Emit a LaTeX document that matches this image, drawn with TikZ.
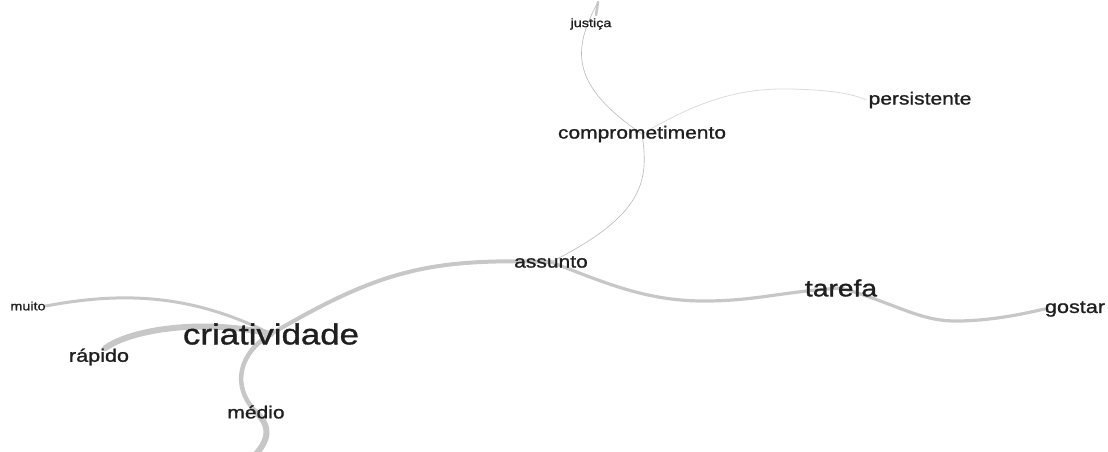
\documentclass[tikz,border=0pt]{standalone}
\usepackage{fontspec}
\setmainfont{Liberation Sans}[FakeStretch=1.2,FakeBold=1.2]
\usetikzlibrary{backgrounds}
\begin{document}
\begin{tikzpicture}[x=1pt,y=-1pt,
  lbl/.style={font=\fontsize{#1}{#1}\selectfont, text=black!88, inner sep=0pt},
  lnk/.style={draw=black!22, line cap=round, line width=#1},
  thinlnk/.style={draw=black!28, line width=0.6pt},
  faint/.style={draw=black!14, line width=0.8pt}]
\useasboundingbox (0,0) rectangle (1108,452);
% nodes
\node[lbl=12] (justica) at (591,24) {justiça};
\node[lbl=17.5] (persistente) at (920,100) {persistente};
\node[lbl=17.5] (compro) at (642,134) {comprometimento};
\node[lbl=17.5] (assunto) at (551,262) {assunto};
\node[lbl=23.5] (tarefa) at (841,288) {tarefa};
\node[lbl=18] (gostar) at (1075,309) {gostar};
\node[lbl=12] (muito) at (28,306) {muito};
\node[lbl=29] (criat) at (271,334) {criatividade};
\node[lbl=18] (rapido) at (99,357) {rápido};
\node[lbl=17.5] (medio) at (256,412) {médio};
\coordinate (jtop) at (598,2);
\coordinate (mbot) at (256,454);
% connectors (behind text)
\begin{pgfonlayer}{background}
\draw[thinlnk] (jtop) .. controls (572,50) and (570,85) .. (compro.center);
\draw[lnk=2.6pt] (jtop) -- ([xshift=5pt,yshift=3pt]justica.north);
\draw[faint] (compro.center) .. controls (700,100) and (740,88) .. (790,89) .. controls (830,90) and (850,93) .. ([xshift=-2pt]persistente.west);
\draw[thinlnk] (compro.center) .. controls (649,180) and (645,215) .. (assunto.center);
\draw[lnk=4pt] (assunto.center) .. controls (430,258) and (380,270) .. (criat.center);
\draw[lnk=3.2pt] (assunto.center) .. controls (610,285) and (650,302) .. (710,301) .. controls (760,300) and (780,292) .. (tarefa.center);
\draw[lnk=3.2pt] (tarefa.center) .. controls (900,305) and (920,322) .. (960,321) .. controls (1000,320) and (1030,312) .. (gostar.west);
\draw[lnk=3pt] (muito.east) .. controls (120,292) and (190,293) .. (criat.center);
\draw[lnk=6pt] ([xshift=6pt]rapido.north) .. controls (130,330) and (200,318) .. (criat.center);
\draw[lnk=4.5pt] (criat.center) .. controls (240,352) and (230,385) .. (medio.center);
\draw[lnk=6pt] (medio.center) .. controls (272,428) and (268,440) .. (mbot);
\end{pgfonlayer}
\end{tikzpicture}
\end{document}
